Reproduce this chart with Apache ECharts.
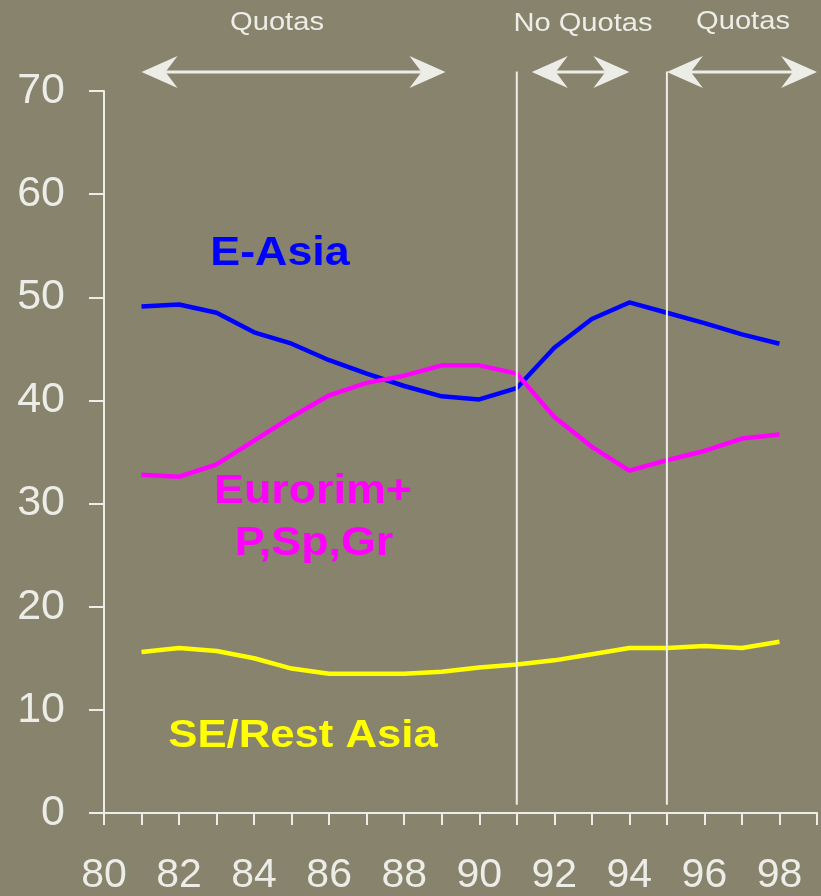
<!DOCTYPE html>
<html>
<head>
<meta charset="utf-8">
<script src="https://cdn.jsdelivr.net/npm/echarts@6/dist/echarts.min.js"></script>
<style>
  html, body { margin: 0; padding: 0; background: #88836d; }
  #chart { width: 821px; height: 896px; }
</style>
</head>
<body>
<div id="chart"></div>
<script>
// Import shares by supplier region, 1981-1998 (%)
const years = [81, 82, 83, 84, 85, 86, 87, 88, 89, 90, 91, 92, 93, 94, 95, 96, 97, 98];
const eAsia = [49.1, 49.3, 48.5, 46.6, 45.5, 43.9, 42.6, 41.4, 40.4, 40.1, 41.2, 45.1, 47.9, 49.5, 48.5, 47.5, 46.4, 45.5];
const eurorim = [32.8, 32.6, 33.8, 36.1, 38.4, 40.5, 41.7, 42.4, 43.4, 43.4, 42.6, 38.4, 35.5, 33.2, 34.2, 35.1, 36.3, 36.7];
const seAsia = [15.6, 16.0, 15.7, 15.0, 14.0, 13.5, 13.5, 13.5, 13.7, 14.1, 14.4, 14.8, 15.4, 16.0, 16.0, 16.2, 16.0, 16.6];

// Trade regime periods: [start year, end year, label]
const regimeSpans = [[81, 89.1, 'Quotas'], [91.4, 94, 'No Quotas'], [95, 99, 'Quotas']];
const regimeBreaks = [91, 95];
const regimeLabelPos = [[277, 23], [583, 24], [743, 22]];

const ink = '#ededE8';
const font = '"Liberation Sans", Arial, sans-serif';

const pairs = arr => years.map((y, i) => [y, arr[i]]);

const chart = echarts.init(document.getElementById('chart'));

chart.setOption({
  backgroundColor: '#88836d',
  animation: false,
  grid: { left: 104, right: 4, top: 91, bottom: 81 },
  xAxis: {
    type: 'value', min: 80, max: 99, interval: 1,
    axisLine: { lineStyle: { color: ink, width: 2 } },
    axisTick: { length: 12, lineStyle: { color: ink, width: 2 } },
    splitLine: { show: false },
    axisLabel: {
      formatter: v => (v % 2 === 0 ? String(v) : ''),
      color: ink, fontSize: 41, fontFamily: font, margin: 42
    }
  },
  yAxis: {
    type: 'value', min: 0, max: 70, interval: 10,
    axisLine: { show: true, lineStyle: { color: ink, width: 2 } },
    axisTick: { show: true, length: 15, lineStyle: { color: ink, width: 2 } },
    splitLine: { show: false },
    axisLabel: { color: ink, fontSize: 43, fontFamily: font, margin: 39 }
  },
  series: [
    { name: 'E-Asia', type: 'line', data: pairs(eAsia), showSymbol: false,
      lineStyle: { color: '#0000ff', width: 4.5 }, z: 2 },
    { name: 'Eurorim+ P,Sp,Gr', type: 'line', data: pairs(eurorim), showSymbol: false,
      lineStyle: { color: '#ff00ff', width: 4.5 }, z: 3 },
    { name: 'SE/Rest Asia', type: 'line', data: pairs(seAsia), showSymbol: false,
      lineStyle: { color: '#ffff00', width: 4.5 }, z: 4 }
  ]
});

const px = (x, y) => chart.convertToPixel({ gridIndex: 0 }, [x, y]);

function arrow(xa, xb, yv) {
  const a = px(xa, yv), b = px(xb, yv);
  const y = a[1], L = 36, W = 16, N = 24;
  const st = { fill: ink };
  return [
    { type: 'line', shape: { x1: a[0] + N, y1: y, x2: b[0] - N, y2: y },
      style: { stroke: ink, lineWidth: 3 } },
    { type: 'polygon', shape: { points: [[a[0], y], [a[0] + L, y - W], [a[0] + N, y], [a[0] + L, y + W]] }, style: st },
    { type: 'polygon', shape: { points: [[b[0], y], [b[0] - L, y - W], [b[0] - N, y], [b[0] - L, y + W]] }, style: st }
  ];
}

function label(text, x, y, color, size, bold) {
  return {
    type: 'text', x: x, y: y, scaleX: 1.12,
    style: {
      text: text, x: 0, y: 0, fill: color, align: 'center', verticalAlign: 'middle',
      font: (bold ? 'bold ' : '') + size + 'px ' + font
    }
  };
}

const elements = [];
regimeBreaks.forEach(yr => {
  const top = px(yr, 71.9), bot = px(yr, 0.8);
  elements.push({ type: 'line', shape: { x1: top[0], y1: top[1], x2: bot[0], y2: bot[1] },
    style: { stroke: ink, lineWidth: 2 }, z: 10 });
});
regimeSpans.forEach((s, i) => {
  elements.push(...arrow(s[0], s[1], 71.85));
  elements.push(label(s[2], regimeLabelPos[i][0], regimeLabelPos[i][1], ink, 26, false));
});
elements.push(label('E-Asia', 280, 254, '#0000ff', 40, true));
elements.push(label('Eurorim+', 313, 492, '#ff00ff', 40, true));
elements.push(label('P,Sp,Gr', 314, 544, '#ff00ff', 40, true));
elements.push(label('SE/Rest Asia', 303, 736, '#ffff00', 39, true));

chart.setOption({ graphic: { elements: elements } });
</script>
</body>
</html>
